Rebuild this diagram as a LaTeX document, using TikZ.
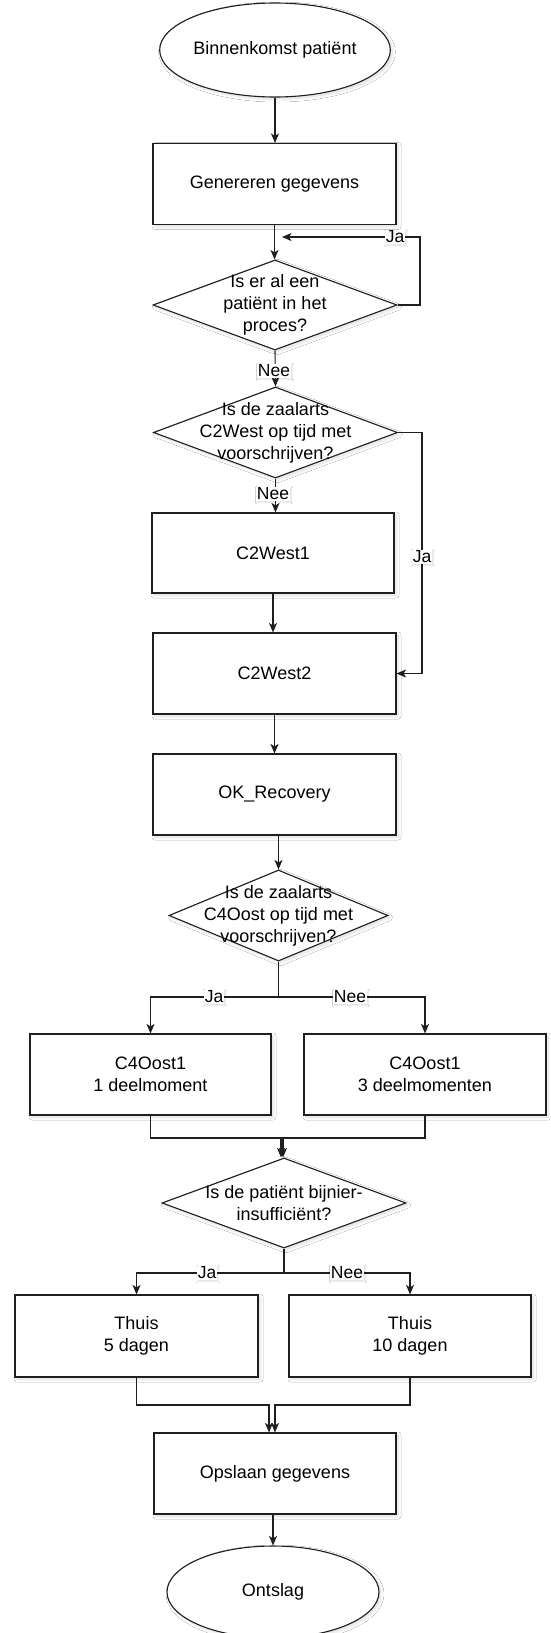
\documentclass[tikz,border=0pt]{standalone}
\usepackage{fontspec}
\setmainfont{Liberation Sans}
\usetikzlibrary{shapes.geometric,arrows.meta,shadows.blur,calc}
\tikzset{
  ln/.style={line width=1.1pt, draw=black!88},
  arr/.style={ln, -{Stealth[length=9.5pt,width=8pt,inset=2.5pt]}},
  shd/.style={blur shadow={shadow xshift=2pt, shadow yshift=-2pt, shadow opacity=14, shadow blur radius=3pt, shadow blur steps=8}},
  txt/.style={font=\fontsize{18}{22}\selectfont, align=center, inner sep=0pt},
  box/.style={ln, fill=white, rectangle, inner sep=0pt, minimum width=243pt, minimum height=81pt, shd, txt},
  term/.style={ln, fill=white, ellipse, inner sep=0pt, minimum width=213pt, minimum height=94pt, shd, txt},
  dia/.style={ln, fill=white, diamond, inner sep=0pt, minimum width=244pt, minimum height=90pt, shd},
  lbl/.style={fill=white, inner sep=1.2pt, font=\fontsize{17.5}{20}\selectfont,
    blur shadow={shadow xshift=1pt, shadow yshift=-1pt, shadow opacity=12, shadow blur radius=1.5pt, shadow blur steps=4}},
}
\begin{document}
\begin{tikzpicture}[x=1pt,y=-1pt]
\useasboundingbox (0,0) rectangle (550,1633);
\fill[white] (0,0) rectangle (550,1633);

% nodes
\node[term] (start) at (275,50) {Binnenkomst patiënt};
\node[box] (gen) at (274.5,184) {Genereren gegevens};
\node[dia] (d1) at (275,305) {};
\node[txt] (d1t) at (275,305) {Is er al een\\patiënt in het\\proces?};
\node[dia, minimum height=91pt] (d2) at (275.5,432.5) {};
\node[txt] (d2t) at (275.5,432.5) {Is de zaalarts\\C2West op tijd met\\voorschrijven?};
\node[box, minimum width=242pt, minimum height=80pt] (w1) at (273,553) {C2West1};
\node[box] (w2) at (274.5,673.5) {C2West2};
\node[box] (okr) at (274.5,794.5) {OK\_Recovery};
\node[dia, minimum width=219pt, minimum height=91pt] (d3) at (278.5,915.5) {};
\node[txt] (d3t) at (278.5,915.5) {Is de zaalarts\\C4Oost op tijd met\\voorschrijven?};
\node[box, minimum width=241pt] (c4a) at (150.5,1074.5) {C4Oost1\\1 deelmoment};
\node[box, minimum width=242pt] (c4b) at (425,1074.5) {C4Oost1\\3 deelmomenten};
\node[dia] (d4) at (284,1203) {};
\node[txt] (d4t) at (284,1203) {Is de patiënt bijnier-\\insufficiënt?};
\node[box, minimum height=82pt] (th5) at (136.5,1336) {Thuis\\5 dagen};
\node[box, minimum width=242pt, minimum height=82pt] (th10) at (410,1336) {Thuis\\10 dagen};
\node[box, minimum width=242pt] (ops) at (275,1473.5) {Opslaan gegevens};
\node[term, minimum width=212pt, minimum height=92pt] (end) at (273,1592) {Ontslag};

\coordinate (loopend) at (282,237);

% connectors
\draw[arr] (start.south) -- (start.south |- gen.north);
\draw[arr] (gen.south) -- (gen.south |- d1.north);
\draw[arr] (d1.east) -- (420,305) -- (420,237) -- (loopend);
\node[lbl] at (395,237) {Ja};

\draw[arr] (d1.south) -- (d2.north);
\node[lbl] at (274,371) {Nee};

\draw[arr] (d2.south) -- (d2.south |- w1.north);
\node[lbl] at (273,494) {Nee};

\draw[arr] (d2.east) -- (422,432.5) -- (422,673.5) -- (w2.east);
\node[lbl] at (422,557) {Ja};

\draw[arr] (w1.south) -- (w1.south |- w2.north);
\draw[arr] (w2.south) -- (w2.south |- okr.north);
\draw[arr] (okr.south -| d3.north) -- (d3.north);

\draw[arr] (d3.south) -- (278.5,997) -| (c4a.north);
\draw[arr] (d3.south) -- (278.5,997) -| (c4b.north);
\node[lbl] at (214,997) {Ja};
\node[lbl] at (350,997) {Nee};

\draw[arr] (c4a.south) -- (150.5,1138) -- (281,1138) -- ($(d4.north)+(-3,0)$);
\draw[arr] (c4b.south) -- (425,1138) -- (283,1138) -- ($(d4.north)+(-1,0)$);

\draw[arr] (d4.south) -- (284,1273) -| (th5.north);
\draw[arr] (d4.south) -- (284,1273) -| (th10.north);
\node[lbl] at (207,1273) {Ja};
\node[lbl] at (347,1273) {Nee};

\draw[arr] (th5.south) -- (136.5,1405) -- (269,1405) -- ($(ops.north)+(-6,0)$);
\draw[arr] (th10.south) -- (410,1405) -- (275,1405) -- (ops.north);

\draw[arr] (ops.south -| end.north) -- (end.north);
\end{tikzpicture}
\end{document}
